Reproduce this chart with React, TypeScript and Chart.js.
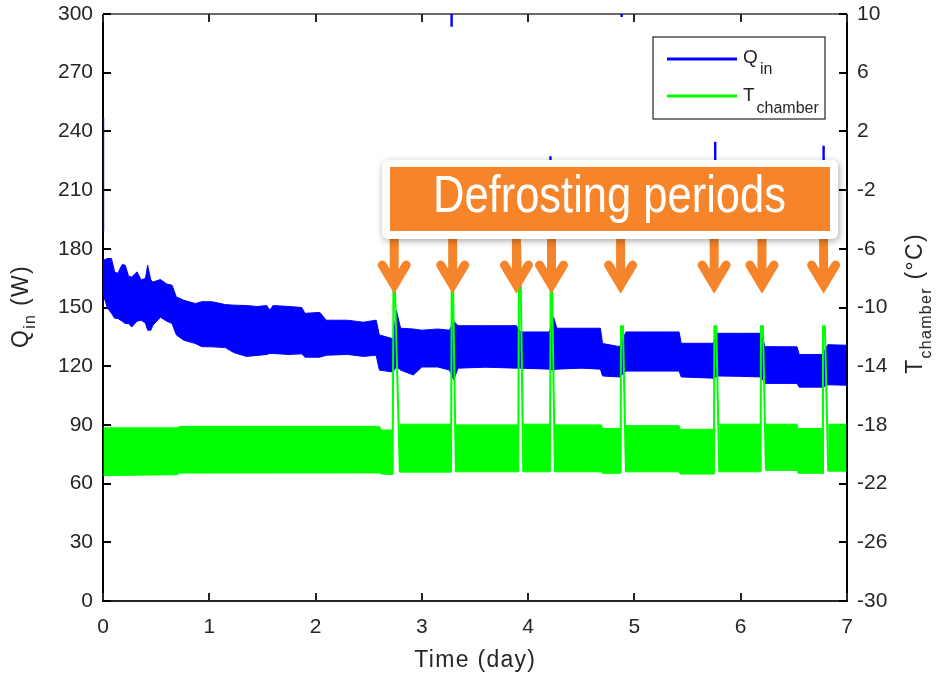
import { useEffect, useRef } from "react";
import { Chart, registerables } from "chart.js";

Chart.register(...registerables);

// ---------- tick labels ----------
const xTicks = [0, 1, 2, 3, 4, 5, 6, 7];
const qTicks = [0, 30, 60, 90, 120, 150, 180, 210, 240, 270, 300];
const tTicks = [-30, -26, -22, -18, -14, -10, -6, -2, 2, 6, 10];

// ---------- Q_in band (W): upper / lower envelope ----------
const qDays = [0, 0.04, 0.08, 0.11, 0.14, 0.18, 0.21, 0.24, 0.27, 0.32, 0.36, 0.4, 0.42, 0.45, 0.47, 0.54, 0.6, 0.65, 0.69, 0.76, 0.87, 0.93, 1.03, 1.15, 1.23, 1.35, 1.45, 1.54, 1.57, 1.6, 1.75, 1.87, 1.9, 2.04, 2.1, 2.3, 2.45, 2.57, 2.6, 2.73, 2.76, 2.8, 2.92, 3.0, 3.15, 3.26, 3.3, 3.34, 3.6, 3.89, 3.93, 4.2, 4.24, 4.27, 4.5, 4.68, 4.7, 4.86, 4.92, 5.2, 5.42, 5.44, 5.74, 5.78, 6.0, 6.19, 6.23, 6.53, 6.55, 6.77, 6.82, 6.995];
const qUpper = [174, 175, 175, 168, 167.5, 172, 171.6, 166, 165.6, 168.2, 164, 165, 171.6, 164, 163, 164.3, 162, 161.4, 155.4, 153.7, 152, 153, 152.9, 151.5, 151.2, 151, 150.5, 151, 148.6, 151, 150.5, 150, 147, 147.5, 143.5, 143.5, 142.5, 143.5, 136, 134, 148.5, 139.4, 139, 138.4, 139, 138.4, 143, 140.7, 140.7, 140.7, 137.5, 137.5, 145, 139.4, 139.4, 139.4, 131.6, 130, 137.5, 137.5, 137.5, 131.7, 131.7, 136.8, 136.8, 136.8, 130, 129.9, 126, 126, 131, 130.7];
const qLower = [157, 150, 147, 144.5, 144.4, 143, 141.8, 141.8, 140, 143, 143.5, 142, 138.4, 138.4, 141, 145, 143, 141.8, 136, 133.3, 131.6, 130, 129.9, 129.5, 127, 125, 125.5, 126, 126.5, 126.5, 126, 126.3, 124.6, 124.6, 125.6, 126, 125, 125.6, 118, 117, 120, 118, 115.5, 119.6, 119.6, 118, 113, 119, 119.5, 119, 119, 118.5, 118, 118.5, 119, 118.5, 115, 114.5, 117.5, 117.5, 117.5, 114.5, 113.9, 115, 114.8, 114.5, 111.2, 111.2, 109.3, 109.3, 110.5, 110.3];

// ---------- Q_in isolated excursions (W) ----------
const qOutDays = [0, 3.28, 4.21, 4.88, 5.76, 6.78];
const qOutLow = [189, 293.5, 224, 298.5, 224, 224];
const qOutHigh = [247, 310, 227.3, 310, 234.7, 232.7];

// ---------- T_chamber band (°C): upper / lower envelope, null = defrost gap ----------
const tDays = [0.004, 0.7, 0.72, 2.6, 2.62, 2.725, 2.76, 2.793, 3.274, 3.3, 3.32, 3.907, 3.93, 3.954, 4.205, 4.23, 4.252, 4.69, 4.7, 4.87, 4.9, 4.92, 5.42, 5.43, 5.748, 5.77, 5.798, 6.187, 6.21, 6.237, 6.53, 6.54, 6.77, 6.8, 6.823, 6.995];
const tUpper = [-18.2, -18.2, -18.1, -18.1, -18.35, -18.35, null, -17.95, -17.95, null, -18.0, -18.0, null, -17.95, -17.95, null, -18.0, -18.0, -18.25, -18.25, null, -18.05, -18.05, -18.3, -18.3, null, -17.95, -17.95, null, -17.95, -17.95, -18.25, -18.25, null, -17.95, -17.95];
const tLower = [-21.45, -21.4, -21.28, -21.27, -21.35, -21.38, null, -21.22, -21.22, null, -21.2, -21.2, null, -21.2, -21.2, null, -21.2, -21.2, -21.3, -21.3, null, -21.2, -21.2, -21.35, -21.35, null, -21.2, -21.2, null, -21.1, -21.1, -21.3, -21.3, null, -21.15, -21.15];

// ---------- T_chamber defrost spikes (°C) ----------
const spikeDays = [2.725, 2.733, 2.745, 2.793, 2.8, 3.274, 3.281, 3.293, 3.32, 3.33, 3.907, 3.914, 3.926, 3.954, 3.96, 4.205, 4.212, 4.224, 4.252, 4.26, 4.87, 4.874, 4.892, 4.92, 4.93, 5.748, 5.752, 5.77, 5.798, 5.81, 6.187, 6.191, 6.209, 6.237, 6.24, 6.77, 6.774, 6.792, 6.823];
const spikeT = [-21.38, -8.2, -8.2, -21.22, null, -21.22, -8.2, -8.2, -21.2, null, -21.2, -5.8, -5.8, -21.2, null, -21.2, -8.2, -8.2, -21.2, null, -21.3, -11.27, -11.27, -21.2, null, -21.35, -11.27, -11.27, -21.2, null, -21.2, -11.27, -11.27, -21.1, null, -21.3, -11.27, -11.27, -21.15];

// ---------- annotation ----------
const arrowDays = [2.74, 3.29, 3.89, 4.22, 4.87, 5.75, 6.2, 6.78];
const bannerText = "Defrosting periods";

const BLUE = "#0000FF";
const GREEN = "#00FF00";
const ORANGE = "#F5842A";
const AXIS = "#262626";
const FONT = '"Liberation Sans", Arial, Helvetica, sans-serif';

function buildDatasets() {
  const ds: any[] = [];
  const base = { pointRadius: 0, tension: 0, spanGaps: false };
  ds.push({ ...base, label: "qUp", yAxisID: "y", data: qDays.map((d, i) => ({ x: d, y: qUpper[i] })), borderColor: BLUE, borderWidth: 1, fill: false, order: 3 });
  ds.push({ ...base, label: "qLo", yAxisID: "y", data: qDays.map((d, i) => ({ x: d, y: qLower[i] })), borderColor: BLUE, borderWidth: 1, backgroundColor: BLUE, fill: "-1", order: 3 });
  const outPts: any[] = [];
  qOutDays.forEach((d, i) => {
    outPts.push({ x: d, y: qOutLow[i] }, { x: d, y: qOutHigh[i] }, { x: d, y: null });
  });
  ds.push({ ...base, label: "qOut", yAxisID: "y", data: outPts, borderColor: BLUE, borderWidth: 2.4, fill: false, order: 3 });

  // green band segments
  let up: any[] = [];
  let lo: any[] = [];
  const flush = () => {
    if (up.length) {
      ds.push({ ...base, label: "tUp", yAxisID: "y1", data: up, borderColor: GREEN, borderWidth: 1, fill: false, order: 2 });
      ds.push({ ...base, label: "tLo", yAxisID: "y1", data: lo, borderColor: GREEN, borderWidth: 1, backgroundColor: GREEN, fill: "-1", order: 2 });
    }
    up = [];
    lo = [];
  };
  tDays.forEach((d, i) => {
    if (tUpper[i] === null) {
      flush();
    } else {
      up.push({ x: d, y: tUpper[i] });
      lo.push({ x: d, y: tLower[i] });
    }
  });
  flush();
  ds.push({ ...base, label: "spikes", yAxisID: "y1", data: spikeDays.map((d, i) => ({ x: d, y: spikeT[i] })), borderColor: GREEN, borderWidth: 2, fill: false, order: 1 });
  return ds;
}

function line(ctx: CanvasRenderingContext2D, x1: number, y1: number, x2: number, y2: number) {
  ctx.beginPath();
  ctx.moveTo(x1, y1);
  ctx.lineTo(x2, y2);
  ctx.stroke();
}

const axesPlugin = {
  id: "matlabAxes",
  beforeDatasetsDraw(chart: any) {
    const { ctx, chartArea, scales } = chart;
    const { left, right, top, bottom } = chartArea;
    ctx.save();
    ctx.lineCap = "butt";
    ctx.strokeStyle = "#3a3a3a";
    ctx.lineWidth = 1.5;
    line(ctx, left, top, right, top);
    ctx.strokeStyle = AXIS;
    ctx.lineWidth = 2;
    line(ctx, left - 1, bottom, right + 1, bottom);
    ctx.strokeStyle = "#000";
    line(ctx, left, top, left, bottom + 1);
    line(ctx, right, top, right, bottom + 1);
    ctx.lineWidth = 2;
    ctx.strokeStyle = AXIS;
    xTicks.forEach((v) => {
      const px = Math.round(scales.x.getPixelForValue(v));
      line(ctx, px, bottom, px, bottom - 8);
      line(ctx, px, top, px, top + 8);
    });
    ctx.strokeStyle = "#000";
    qTicks.forEach((v) => {
      const py = Math.round(scales.y.getPixelForValue(v));
      line(ctx, left, py, left + 8, py);
    });
    tTicks.forEach((v) => {
      const py = Math.round(scales.y1.getPixelForValue(v));
      line(ctx, right, py, right - 8, py);
    });
    ctx.restore();
  },
};

function drawPieces(ctx: any, pieces: { text: string; size: number; dy: number }[], baseline: number, ls: number, centered: boolean, xStart = 0) {
  const widths = pieces.map((p) => {
    ctx.font = `${p.size}px ${FONT}`;
    ctx.letterSpacing = `${ls}px`;
    return ctx.measureText(p.text).width;
  });
  const total = widths.reduce((a, b) => a + b, 0);
  let x = centered ? -total / 2 : xStart;
  pieces.forEach((p, i) => {
    ctx.font = `${p.size}px ${FONT}`;
    ctx.letterSpacing = `${ls}px`;
    ctx.fillText(p.text, x, baseline + p.dy);
    x += widths[i];
  });
}

const annotationPlugin = {
  id: "annotations",
  afterDatasetsDraw(chart: any) {
    const { ctx, scales } = chart;
    ctx.save();
    // arrows
    ctx.strokeStyle = ORANGE;
    ctx.lineWidth = 9;
    arrowDays.forEach((d) => {
      const x = scales.x.getPixelForValue(d);
      ctx.lineCap = "butt";
      line(ctx, x, 236, x, 282);
      ctx.lineCap = "round";
      ctx.lineJoin = "miter";
      ctx.beginPath();
      ctx.moveTo(x - 12, 265);
      ctx.lineTo(x, 285);
      ctx.lineTo(x + 12, 265);
      ctx.stroke();
    });
    // banner
    ctx.save();
    ctx.shadowColor = "rgba(0,0,0,0.35)";
    ctx.shadowBlur = 7;
    ctx.shadowOffsetX = 1;
    ctx.shadowOffsetY = 2;
    ctx.fillStyle = "#ffffff";
    ctx.beginPath();
    (ctx as any).roundRect(382, 160, 456, 79, 6);
    ctx.fill();
    ctx.restore();
    ctx.fillStyle = ORANGE;
    ctx.fillRect(390, 167, 440, 64);
    ctx.fillStyle = "#ffffff";
    ctx.font = `52px ${FONT}`;
    const w = ctx.measureText(bannerText).width;
    const sx = 353 / w;
    ctx.save();
    ctx.translate(609.5, 211.5);
    ctx.scale(sx, 1);
    ctx.textAlign = "center";
    ctx.textBaseline = "alphabetic";
    ctx.fillText(bannerText, 0, 0);
    ctx.restore();
    ctx.restore();
  },
  afterDraw(chart: any) {
    const { ctx } = chart;
    ctx.save();
    ctx.fillStyle = AXIS;
    ctx.textBaseline = "alphabetic";
    ctx.textAlign = "left";
    // x title
    ctx.save();
    ctx.translate(475.3, 666.7);
    drawPieces(ctx, [{ text: "Time (day)", size: 23, dy: 0 }], 0, 1.3, true);
    ctx.restore();
    // left title
    ctx.save();
    ctx.translate(27.5, 306.5);
    ctx.rotate(-Math.PI / 2);
    drawPieces(ctx, [
      { text: "Q", size: 23, dy: 0 },
      { text: "in", size: 16, dy: 7 },
      { text: " (W)", size: 23, dy: 0 },
    ], 0, 1.3, true);
    ctx.restore();
    // right title
    ctx.save();
    ctx.translate(921.5, 303.5);
    ctx.rotate(-Math.PI / 2);
    drawPieces(ctx, [
      { text: "T", size: 23, dy: 0 },
      { text: "chamber", size: 16, dy: 9 },
      { text: " (°C)", size: 23, dy: 0 },
    ], 0, 1.3, true);
    ctx.restore();
    // legend
    ctx.fillStyle = "#ffffff";
    ctx.fillRect(653, 37, 172, 82);
    ctx.strokeStyle = "#333333";
    ctx.lineWidth = 1.3;
    ctx.strokeRect(653, 37, 172, 82);
    ctx.lineWidth = 3;
    ctx.strokeStyle = BLUE;
    line(ctx, 667, 59, 737, 59);
    ctx.strokeStyle = GREEN;
    line(ctx, 667, 96, 737, 96);
    ctx.fillStyle = AXIS;
    ctx.letterSpacing = "0px";
    ctx.font = `19px ${FONT}`;
    ctx.fillText("Q", 743, 63);
    ctx.fillText("T", 743, 100.5);
    ctx.font = `16px ${FONT}`;
    ctx.fillText("in", 760, 73.5);
    ctx.fillText("chamber", 756.5, 112.5);
    ctx.restore();
  },
};

export default function App() {
  const ref = useRef<HTMLCanvasElement>(null);
  useEffect(() => {
    const canvas = ref.current!;
    const tickFont = { family: FONT, size: 21 };
    const vFit = (w: number) => (s: any) => {
      s.width = w;
      s.paddingTop = 0;
      s.paddingBottom = 0;
    };
    const chart = new Chart(canvas, {
      type: "line",
      data: { datasets: buildDatasets() },
      options: {
        animation: false,
        responsive: false,
        devicePixelRatio: 1,
        layout: { padding: { top: 14, left: 0, right: 0, bottom: 0 } },
        plugins: { legend: { display: false }, tooltip: { enabled: false } },
        scales: {
          x: {
            type: "linear",
            min: 0,
            max: 7,
            afterBuildTicks: (s: any) => { s.ticks = xTicks.map((v) => ({ value: v })); },
            afterFit: (s: any) => { s.height = 74; s.paddingLeft = 0; s.paddingRight = 0; },
            grid: { display: false, drawTicks: false },
            border: { display: false },
            ticks: { font: tickFont, color: AXIS, padding: 14, maxRotation: 0, autoSkip: false, callback: (v: any) => String(v) },
          },
          y: {
            type: "linear",
            position: "left",
            min: 0,
            max: 300,
            afterBuildTicks: (s: any) => { s.ticks = qTicks.map((v) => ({ value: v })); },
            afterFit: vFit(103),
            grid: { display: false, drawTicks: false },
            border: { display: false },
            ticks: { font: tickFont, color: AXIS, padding: 10, autoSkip: false, callback: (v: any) => String(v) },
          },
          y1: {
            type: "linear",
            position: "right",
            min: -30,
            max: 10,
            afterBuildTicks: (s: any) => { s.ticks = tTicks.map((v) => ({ value: v })); },
            afterFit: vFit(91),
            grid: { display: false, drawTicks: false },
            border: { display: false },
            ticks: { font: tickFont, color: AXIS, padding: 10, autoSkip: false, callback: (v: any) => String(v) },
          },
        },
      } as any,
      plugins: [axesPlugin, annotationPlugin],
    });
    return () => chart.destroy();
  }, []);
  return (
    <div style={{ position: "fixed", left: 0, top: 0, width: 938, height: 675, background: "#ffffff" }}>
      <canvas ref={ref} width={938} height={675} style={{ display: "block" }} />
    </div>
  );
}
